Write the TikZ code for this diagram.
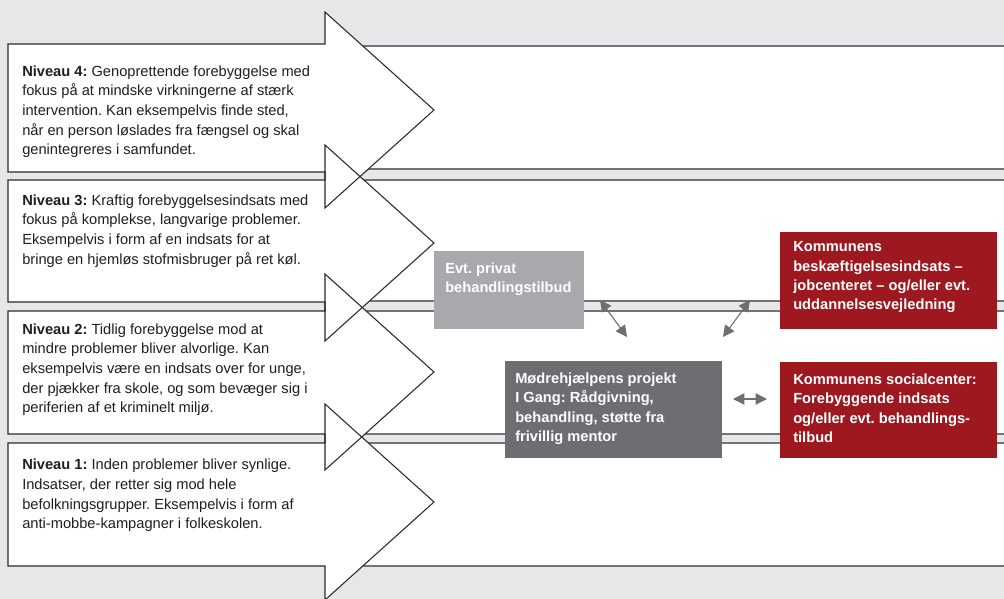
\documentclass[tikz,border=0pt]{standalone}
\usepackage{fontspec}
\setmainfont{Liberation Sans}
\usetikzlibrary{arrows.meta,calc}

\definecolor{pagebg}{HTML}{E6E7E8}
\definecolor{bandrule}{HTML}{727376}
\definecolor{inkline}{HTML}{2B2A29}
\definecolor{paleboxfill}{HTML}{A7A9AC}
\definecolor{darkboxfill}{HTML}{6D6E71}
\definecolor{redboxfill}{HTML}{9D191F}

\tikzset{
  bandedge/.style={draw=bandrule, line width=1.3pt},
  levelshape/.style={draw=inkline, line width=0.8pt, line join=miter},
  leveltext/.style={anchor=north west, inner sep=0pt, align=left,
    text=black!88, font=\frenchspacing\fontsize{11pt}{14.7pt}\selectfont},
  infobox/.style={anchor=north west, inner sep=0pt, draw=none},
  infotext/.style={anchor=north west, inner sep=0pt, align=left,
    text=white, font=\frenchspacing\bfseries\fontsize{11pt}{14.5pt}\selectfont},
  link/.style={draw=darkboxfill, line width=0.8pt,
    {Triangle[length=8.5pt,width=8.5pt]}-{Triangle[length=8.5pt,width=8.5pt]}},
}

% outline of one level: box from y=#1 to y=#2, arrow tip at height #3
\newcommand\leveloutline[3]{(8,#1) -- (325,#1) -- (325,{#3-98}) -- (434,#3)
  -- (325,{#3+98}) -- (325,#2) -- (8,#2) -- cycle}

\begin{document}
\begin{tikzpicture}[x=0.75pt,y=-0.75pt]
\useasboundingbox (0,0) rectangle (1004,599);
\fill[pagebg] (0,0) rectangle (1004,599);

% horizontal bands running to the right edge
\foreach \bt/\bb in {46/169,180/301,311/434,443/566}{
  \fill[white] (325,\bt) rectangle (1004,\bb);
  \draw[bandedge] (325,\bt) -- (1004,\bt);
  \draw[bandedge] (325,\bb) -- (1004,\bb);
}

% level arrows: fills first, then all outlines so crossings stay visible
\fill[white] \leveloutline{44}{172}{110};
\fill[white] \leveloutline{180}{302}{243};
\fill[white] \leveloutline{311}{434}{372};
\fill[white] \leveloutline{443}{566}{502};
\draw[levelshape] \leveloutline{44}{172}{110};
\draw[levelshape] \leveloutline{180}{302}{243};
\draw[levelshape] \leveloutline{311}{434}{372};
\draw[levelshape] \leveloutline{443}{566}{502};

% level descriptions
\node[leveltext] (lv4) at (22,65.5) {\textbf{Niveau 4:} Genoprettende forebyggelse med\\
fokus på at mindske virkningerne af stærk\\
intervention. Kan eksempelvis finde sted,\\
når en person løslades fra fængsel og skal\\
genintegreres i samfundet.};
\node[leveltext] (lv3) at (22,194.5) {\textbf{Niveau 3:} Kraftig forebyggelsesindsats med\\
fokus på komplekse, langvarige problemer.\\
Eksempelvis i form af en indsats for at\\
bringe en hjemløs stofmisbruger på ret køl.};
\node[leveltext] (lv2) at (22,323.5) {\textbf{Niveau 2:} Tidlig forebyggelse mod at\\
mindre problemer bliver alvorlige. Kan\\
eksempelvis være en indsats over for unge,\\
der pjækker fra skole, og som bevæger sig i\\
periferien af et kriminelt miljø.};
\node[leveltext] (lv1) at (22,459) {\textbf{Niveau 1:} Inden problemer bliver synlige.\\
Indsatser, der retter sig mod hele\\
befolkningsgrupper. Eksempelvis i form af\\
anti-mobbe-kampagner i folkeskolen.};

% actor boxes
\node[infobox, fill=paleboxfill, minimum width=112.5pt, minimum height=58.5pt] (priv) at (434,251) {};
\node[infobox, fill=darkboxfill, minimum width=162.75pt, minimum height=72.75pt] (igang) at (505,361) {};
\node[infobox, fill=redboxfill, minimum width=162.75pt, minimum height=72.75pt] (job) at (780,232) {};
\node[infobox, fill=redboxfill, minimum width=162.75pt, minimum height=72pt] (social) at (780,362) {};

\node[infotext] (privtxt) at ($(priv.north west)+(11,11.5)$) {Evt. privat\\behandlingstilbud};
\node[infotext] (igangtxt) at ($(igang.north west)+(10,11.5)$) {Mødrehjælpens projekt\\
I Gang: Rådgivning,\\behandling, støtte fra\\frivillig mentor};
\node[infotext] (jobtxt) at ($(job.north west)+(13,9.5)$) {Kommunens\\
beskæftigelsesindsats –\\jobcenteret – og/eller evt.\\uddannelsesvejledning};
\node[infotext] (socialtxt) at ($(social.north west)+(13,11.5)$) {Kommunens socialcenter:\\
Forebyggende indsats\\og/eller evt. behandlings-\\tilbud};

% two-way links between the actors
\coordinate (privend) at (600,300);
\coordinate (igangL) at (627,337);
\coordinate (jobend) at (750,300);
\coordinate (igangR) at (723,337);
\coordinate (igangE) at (733,399);
\coordinate (socialW) at (767,399);
\draw[link] (privend) -- (igangL);
\draw[link] (jobend) -- (igangR);
\draw[link] (igangE) -- (socialW);
\end{tikzpicture}
\end{document}
